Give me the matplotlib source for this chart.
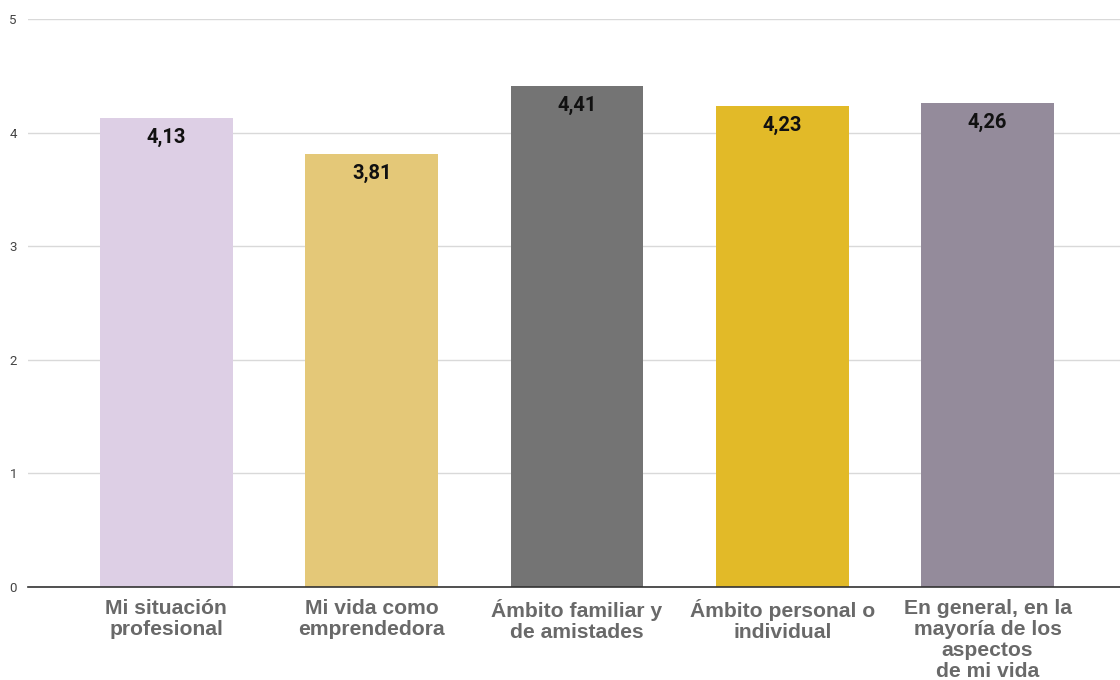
import matplotlib
matplotlib.use("Agg")
import matplotlib.pyplot as plt

categories = [
    "Mi situación\nprofesional",
    "Mi vida como\nemprendedora",
    "Ámbito familiar y\nde amistades",
    "Ámbito personal o\nindividual",
    "En general, en la\nmayoría de los\naspectos\nde mi vida",
]
values = [4.13, 3.81, 4.41, 4.23, 4.26]
value_labels = ["4,13", "3,81", "4,41", "4,23", "4,26"]
colors = ["#DDCFE5", "#E4C878", "#747474", "#E2BA28", "#948B9B"]
yticks = [0, 1, 2, 3, 4, 5]

fig = plt.figure(figsize=(11.2, 6.8), dpi=100)
ax = fig.add_axes([0.025, 0.1368, 0.975, 0.8353])

x = list(range(len(categories)))
bars = ax.bar(x, values, width=0.647, color=colors, zorder=3)

for bar, lab in zip(bars, value_labels):
    ax.annotate(lab, (bar.get_x() + bar.get_width() / 2, bar.get_height()),
                xytext=(0, -7), textcoords="offset points",
                ha="center", va="top", fontsize=14.5, fontweight="bold",
                color="#111111", family="Roboto", zorder=4)

ax.set_xlim(-0.674, 4.645)
ax.set_ylim(0, 5)
ax.set_yticks(yticks)
ax.set_yticklabels([str(t) for t in yticks], fontsize=9.5, color="#444444",
                   family="Roboto")
ax.yaxis.grid(True, color="#D9D9D9", linewidth=1, zorder=0)
ax.tick_params(axis="y", length=0, pad=8)
ax.tick_params(axis="x", length=0, pad=9)

ax.set_xticks(x)
ax.set_xticklabels(categories, fontsize=15.2, fontweight="bold", color="#696969",
                   family="Liberation Sans", linespacing=1.12)

for s in ["top", "right", "left"]:
    ax.spines[s].set_visible(False)
ax.spines["bottom"].set_color("#333333")
ax.spines["bottom"].set_linewidth(1.2)
ax.spines["bottom"].set_zorder(5)

fig.savefig("out.png", dpi=100, facecolor="white")
